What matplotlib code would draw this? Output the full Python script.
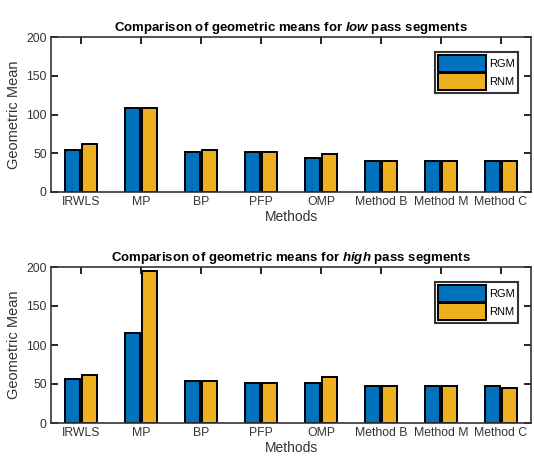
import numpy as np
import matplotlib.pyplot as plt

# data
methods = ['IRWLS', 'MP', 'BP', 'PFP', 'OMP', 'Method B', 'Method M', 'Method C']
low_rgm = [54, 108, 51, 51, 44, 40, 40, 40]
low_rnm = [62, 108, 54, 51, 49, 40, 40, 40]
high_rgm = [57, 116, 54, 51, 51, 48, 48, 48]
high_rnm = [62, 195, 54, 51, 59, 48, 48, 45]

blue = '#0072BD'
yellow = '#EDB120'
plt.rcParams['font.family'] = ['Liberation Sans', 'DejaVu Sans']
plt.rcParams['mathtext.fontset'] = 'custom'
plt.rcParams['mathtext.it'] = 'Liberation Sans:italic:bold'
plt.rcParams['mathtext.rm'] = 'Liberation Sans:bold'

fig = plt.figure(figsize=(5.34, 4.66), dpi=100)
W, H = 534, 466

def panel(rect, rgm, rnm, kind):
    l, t, r, b = rect
    ax = fig.add_axes([l / W, 1 - b / H, (r - l) / W, (b - t) / H])
    x = np.arange(1, len(methods) + 1)
    ax.bar(x - 0.135, rgm, 0.25, color=blue, edgecolor='black', linewidth=1.4, label='RGM')
    ax.bar(x + 0.145, rnm, 0.25, color=yellow, edgecolor='black', linewidth=1.4, label='RNM')
    ax.set_xlim(0.5, 8.5)
    ax.set_ylim(0, 200)
    ax.set_xticks(x)
    ax.set_xticklabels(methods)
    ax.set_yticks([0, 50, 100, 150, 200])
    ax.tick_params(direction='in', top=True, right=True, length=5, width=1.2,
                   labelsize=8.8, labelcolor='#333333', pad=3)
    for s in ax.spines.values():
        s.set_linewidth(1.2)
        s.set_color('#333333')
    ax.set_xlabel('Methods', fontsize=10, color='#333333', labelpad=1)
    ax.set_ylabel('Geometric Mean', fontsize=10.5, color='#333333', labelpad=4)
    ax.set_title('Comparison of geometric means for $\\it{' + kind + '}$ pass segments',
                 fontsize=9.5, fontweight='bold', pad=4)
    leg = ax.legend(loc='upper right', fontsize=8, handlelength=4.3, handleheight=1.9,
                    handletextpad=0.3, labelspacing=0.15, borderpad=0.3,
                    fancybox=False, frameon=True, bbox_to_anchor=(0.985, 0.94))
    leg.get_frame().set_edgecolor('black')
    leg.get_frame().set_linewidth(1.5)
    return ax

panel((51, 37, 531, 192), low_rgm, low_rnm, 'low')
panel((51, 267, 531, 423), high_rgm, high_rnm, 'high')

fig.savefig('out.png', dpi=100)
